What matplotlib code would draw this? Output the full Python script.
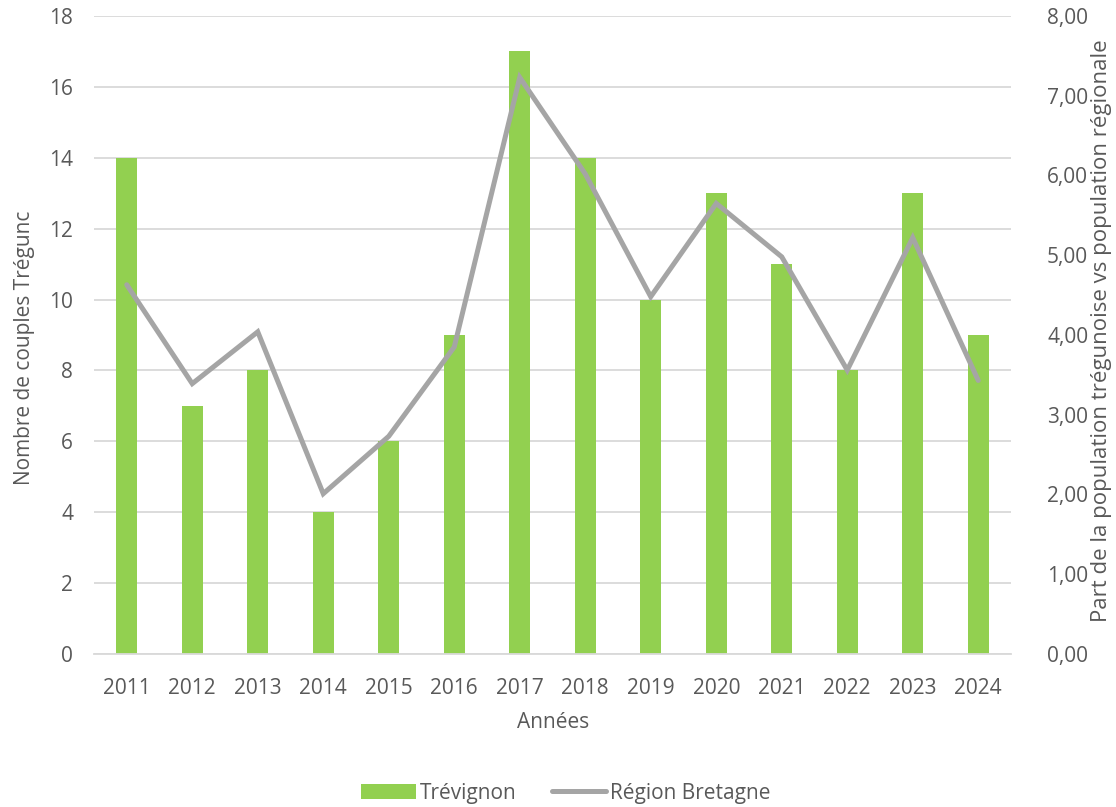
import matplotlib
matplotlib.use("Agg")
import matplotlib.pyplot as plt
import numpy as np

years = ["2011", "2012", "2013", "2014", "2015", "2016", "2017",
         "2018", "2019", "2020", "2021", "2022", "2023", "2024"]
couples_trevignon = [14, 7, 8, 4, 6, 9, 17, 14, 10, 13, 11, 8, 13, 9]
part_region = [4.63, 3.39, 4.04, 2.01, 2.73, 3.85, 7.23,
               6.02, 4.48, 5.65, 4.98, 3.56, 5.22, 3.43]

plt.rcParams['font.family'] = ['Open Sans', 'DejaVu Sans']
txt = '#595959'
green = '#92D050'
grey = '#A5A5A5'

W, H = 1116, 807
fig = plt.figure(figsize=(W/100, H/100), dpi=100)
ax = fig.add_axes([94/W, 1-654/H, (1011-94)/W, (654-16)/H])
ax2 = ax.twinx()

x = np.arange(len(years))
ax.bar(x, couples_trevignon, width=0.32, color=green, zorder=2, label='Trévignon')
ax2.plot(x, part_region, color=grey, lw=3.6, solid_capstyle='round',
         solid_joinstyle='miter', zorder=3, label='Région Bretagne')

ax.set_xlim(-0.5, len(years) - 0.5)
ax.set_ylim(0, 18)
ax.set_yticks(range(0, 19, 2))
ax2.set_ylim(0, 8)
ax2.set_yticks(range(0, 9))
ax2.set_yticklabels([f"{v},00" for v in range(0, 9)])
ax.set_xticks(x)
ax.set_xticklabels(years)

ax.grid(axis='y', color='#D9D9D9', lw=1.3, zorder=0)
ax.set_axisbelow(True)
for a in (ax, ax2):
    for s in a.spines.values():
        s.set_visible(False)
    a.tick_params(length=0, labelsize=15, colors=txt)
ax.spines['bottom'].set_visible(True)
ax.spines['bottom'].set_color('#D9D9D9')
ax.spines['bottom'].set_linewidth(1.3)
ax.tick_params(axis='y', pad=15)
ax.tick_params(axis='x', pad=17)
ax2.tick_params(axis='y', pad=26)

fig.text(553/W, 1-722/H, 'Années', fontsize=15, color=txt, ha='center', va='center')
fig.text(25/W, 1-348/H, 'Nombre de couples Trégunc', fontsize=15, color=txt,
         ha='center', va='center', rotation=90)
fig.text(1102/W, 1-331/H, 'Part de la population trégunoise vs population régionale',
         fontsize=16, color=txt, ha='center', va='center', rotation=90)

h1, l1 = ax.get_legend_handles_labels()
h2, l2 = ax2.get_legend_handles_labels()
leg = fig.legend(h1 + h2, l1 + l2, loc='center', bbox_to_anchor=(566/W, 1-793/H),
                 ncol=2, frameon=False, fontsize=15, handlelength=2.6,
                 handletextpad=0.2, columnspacing=1.7)
for t in leg.get_texts():
    t.set_color(txt)

fig.savefig('out.png', dpi=100)
